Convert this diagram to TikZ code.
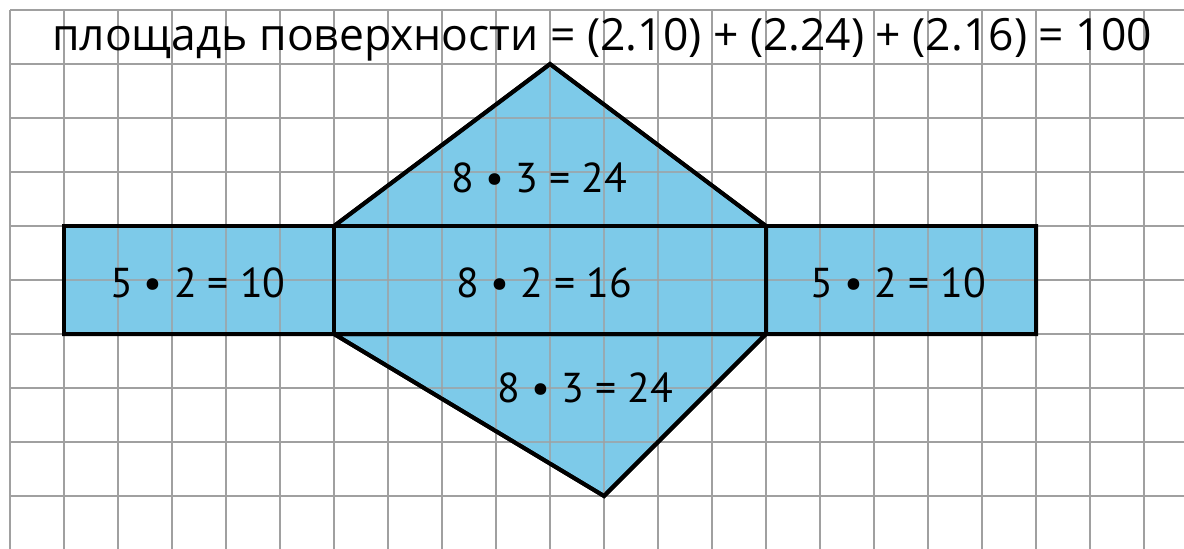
\documentclass[tikz,border=0pt]{standalone}
\usepackage{fontspec}
\setmainfont{Open Sans}
\newfontfamily\labfont{PT Sans}
\definecolor{faceblue}{HTML}{7DCAE9}
\definecolor{gridgray}{HTML}{A0A0A0}
\begin{document}
\begin{tikzpicture}[x=1cm,y=1cm,
  gridline/.style={draw=gridgray,line width=1.1pt},
  face/.style={fill=faceblue,draw=black,line width=2.1pt,line join=miter},
  lab/.style={font=\labfont\fontsize{22}{26}\selectfont,inner sep=0pt}]
\useasboundingbox (-0.1852,0.037) rectangle (21.7407,10.1852);
\fill[white] (-0.1852,0.037) rectangle (21.7407,10.1852);
% grid
\foreach \i in {0,...,21} \draw[gridline] (\i,0) -- (\i,10);
\foreach \j in {1,...,10} \draw[gridline] (0,\j) -- (21.7407,\j);
% faces
\coordinate (A) at (1,4); \coordinate (B) at (6,4); \coordinate (C) at (14,4); \coordinate (D) at (19,4);
\coordinate (E) at (1,6); \coordinate (F) at (6,6); \coordinate (G) at (14,6); \coordinate (H) at (19,6);
\coordinate (T) at (10,9); \coordinate (U) at (11,1);
\path[face] (F) -- (T) -- (G) -- cycle;
\path[face] (B) -- (U) -- (C) -- cycle;
\path[face] (A) rectangle (F);
\path[face] (B) rectangle (G);
\path[face] (C) rectangle (H);
% grid over faces
\begin{scope}
\clip (A) -- (B) -- (U) -- (C) -- (D) -- (H) -- (G) -- (T) -- (F) -- (E) -- cycle;
\foreach \i in {1,...,19} \draw[gridline,draw opacity=0.75] (\i,0) -- (\i,10);
\foreach \j in {1,...,9} \draw[gridline,draw opacity=0.75] (0,\j) -- (20,\j);
\end{scope}
\draw[line width=2.1pt,line join=miter] (F) -- (T) -- (G) (B) -- (U) -- (C)
  (A) rectangle (H) (F) -- (B) (G) -- (C);
% labels
\node[lab] (l1) at (3.48,4.95) {5 • 2 = 10};
\node[lab] (l2) at (9.9,4.95) {8 • 2 = 16};
\node[lab] (l3) at (16.45,4.95) {5 • 2 = 10};
\node[lab] (l4) at (9.8,6.9) {8 • 3 = 24};
\node[lab] (l5) at (10.65,3.0) {8 • 3 = 24};
\node[font=\fontsize{23.4}{28}\selectfont,inner sep=0pt] (title) at (10.96,9.45) {площадь поверхности = (2.10) + (2.24) + (2.16) = 100};
\end{tikzpicture}
\end{document}
